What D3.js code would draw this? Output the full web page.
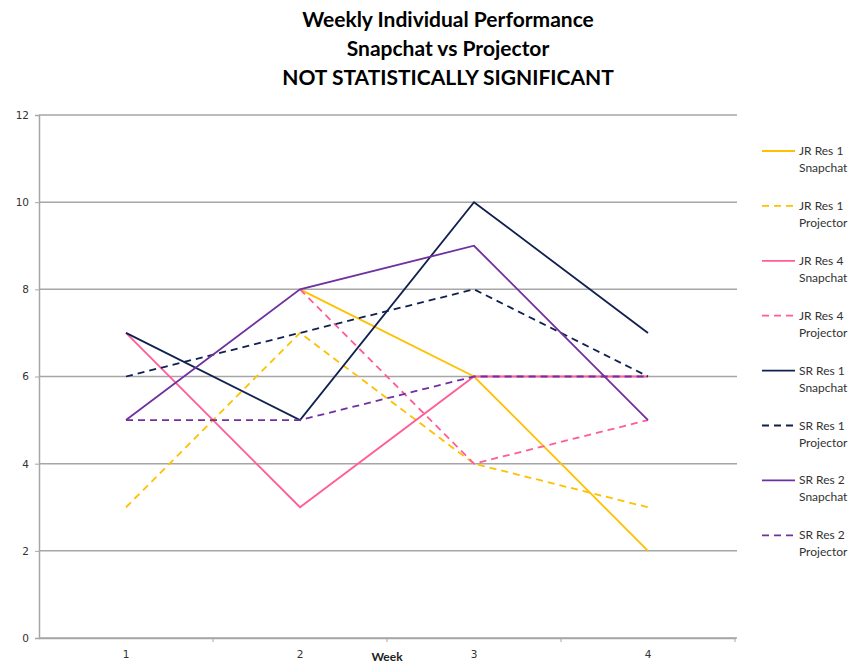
<!DOCTYPE html>
<html>
<head>
<meta charset="utf-8">
<script src="https://cdn.jsdelivr.net/npm/d3@7"></script>
<style>
  body { margin: 0; background: #fff; }
  svg { display: block; }
</style>
</head>
<body>
<div id="chart"></div>
<script>
// chart data
const weeks = ["1", "2", "3", "4"];
const yTicks = [0, 2, 4, 6, 8, 10, 12];
const titleLines = ["Weekly Individual Performance", "Snapchat vs Projector", "NOT STATISTICALLY SIGNIFICANT"];

const seriesNames = [
    ["JR Res 1", "Snapchat"], ["JR Res 1", "Projector"],
    ["JR Res 4", "Snapchat"], ["JR Res 4", "Projector"],
    ["SR Res 1", "Snapchat"], ["SR Res 1", "Projector"],
    ["SR Res 2", "Snapchat"], ["SR Res 2", "Projector"]
];
const jrRes1Snapchat = [null, 8, 6, 2];
const jrRes1Projector = [3, 7, 4, 3];
const jrRes4Snapchat = [7, 3, 6, 6];
const jrRes4Projector = [null, 8, 4, 5];
const srRes1Snapchat = [7, 5, 10, 7];
const srRes1Projector = [6, 7, 8, 6];
const srRes2Snapchat = [5, 8, 9, 5];
const srRes2Projector = [5, 5, 6, 6];
const seriesValues = [jrRes1Snapchat, jrRes1Projector, jrRes4Snapchat, jrRes4Projector,
    srRes1Snapchat, srRes1Projector, srRes2Snapchat, srRes2Projector];
const seriesColors = ["#FFC000", "#FFC000", "#FF5C98", "#FF5C98", "#10204F", "#10204F", "#7030A0", "#7030A0"];
const seriesDashed = [false, true, false, true, false, true, false, true];

// drawing order: draw so that overlaps look like the original
const drawOrder = [0, 1, 3, 2, 4, 5, 6, 7];

const W = 862, H = 666;
const margin = {top: 115, left: 39, right: 127, bottom: 28};

const svg = d3.select("#chart").append("svg")
    .attr("width", W)
    .attr("height", H);

const x = d3.scaleBand()
    .domain(weeks)
    .range([margin.left, W - margin.right]);

const y = d3.scaleLinear()
    .domain([0, 12])
    .range([H - margin.bottom, margin.top]);

// title
svg.append("g").selectAll("text")
    .data(titleLines)
    .enter()
    .append("text")
    .attr("x", 448)
    .attr("y", (d, i) => 27 + i * 29)
    .attr("text-anchor", "middle")
    .style("font-family", "Lato, 'Open Sans', sans-serif")
    .style("font-weight", "bold")
    .style("font-size", "21px")
    .style("fill", "#000")
    .text(d => d);

// horizontal gridlines
svg.append("g").selectAll("line")
    .data(yTicks)
    .enter()
    .append("line")
    .attr("x1", margin.left)
    .attr("x2", W - margin.right + 2)
    .attr("y1", d => y(d))
    .attr("y2", d => y(d))
    .attr("stroke", "#A6A6A6")
    .attr("stroke-width", 1.5);

// y axis
const yAxis = svg.append("g")
    .attr("transform", `translate(${margin.left},0)`)
    .call(d3.axisLeft(y).tickValues(yTicks).tickSize(4).tickPadding(6));
yAxis.select(".domain").attr("stroke", "#A6A6A6").attr("stroke-width", 1.5);
yAxis.selectAll(".tick line").attr("stroke", "#A6A6A6");
yAxis.selectAll("text")
    .style("font-family", "'DejaVu Sans', sans-serif")
    .style("font-size", "10.5px")
    .style("fill", "#333");

// x axis (ticks between categories)
const xAxis = svg.append("g")
    .attr("transform", `translate(0,${y(0)})`)
    .call(d3.axisBottom(x).tickSize(0).tickPadding(13));
xAxis.select(".domain").attr("stroke", "#A6A6A6").attr("stroke-width", 1.5);
xAxis.selectAll("text")
    .style("font-family", "'DejaVu Sans', sans-serif")
    .style("font-size", "10.5px")
    .style("fill", "#333");
xAxis.append("g").selectAll("line")
    .data(weeks)
    .enter()
    .append("line")
    .attr("x1", d => x(d) + x.bandwidth())
    .attr("x2", d => x(d) + x.bandwidth())
    .attr("y1", 0)
    .attr("y2", 4)
    .attr("stroke", "#A6A6A6");

svg.append("text")
    .attr("x", (x("2") + x("3") + x.bandwidth()) / 2)
    .attr("y", y(0) + 23)
    .attr("text-anchor", "middle")
    .style("font-family", "Lato, sans-serif")
    .style("font-weight", "bold")
    .style("font-size", "12px")
    .style("fill", "#222")
    .text("Week");

// series lines
const line = d3.line()
    .defined(d => d.v !== null)
    .x(d => x(d.w) + x.bandwidth() / 2)
    .y(d => y(d.v));

svg.append("g").selectAll("path")
    .data(drawOrder)
    .enter()
    .append("path")
    .attr("d", i => line(weeks.map((w, j) => ({w: w, v: seriesValues[i][j]}))))
    .attr("fill", "none")
    .attr("stroke", i => seriesColors[i])
    .attr("stroke-width", 1.8)
    .attr("stroke-dasharray", i => seriesDashed[i] ? "7,5" : null);

// legend
const legend = svg.append("g").selectAll("g")
    .data(seriesNames)
    .enter()
    .append("g")
    .attr("transform", (d, i) => `translate(762,${151 + i * 54.9})`);

legend.append("line")
    .attr("x1", 0)
    .attr("x2", 33)
    .attr("stroke", (d, i) => seriesColors[i])
    .attr("stroke-width", 1.8)
    .attr("stroke-dasharray", (d, i) => seriesDashed[i] ? "7,5" : null);

legend.append("text")
    .attr("x", 37)
    .attr("y", 4)
    .style("font-family", "Lato, sans-serif")
    .style("font-size", "12px")
    .style("fill", "#333")
    .selectAll("tspan")
    .data(d => d)
    .enter()
    .append("tspan")
    .attr("x", 37)
    .attr("dy", (d, i) => i === 0 ? 0 : 17)
    .text(d => d);
</script>
</body>
</html>
